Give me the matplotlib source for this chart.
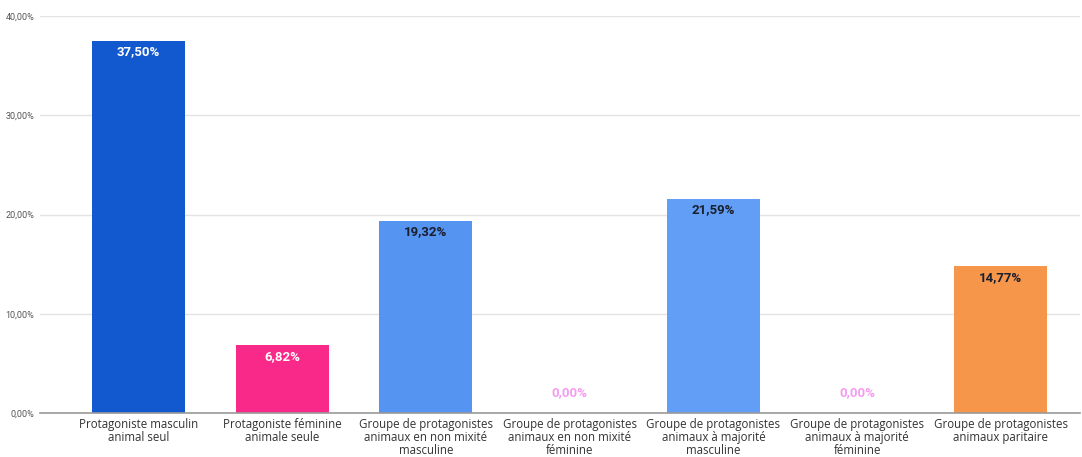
import matplotlib
matplotlib.use("Agg")
import matplotlib.pyplot as plt
from matplotlib.ticker import FuncFormatter

categories = [
    "Protagoniste masculin\nanimal seul",
    "Protagoniste féminine\nanimale seule",
    "Groupe de protagonistes\nanimaux en non mixité\nmasculine",
    "Groupe de protagonistes\nanimaux en non mixité\nféminine",
    "Groupe de protagonistes\nanimaux à majorité\nmasculine",
    "Groupe de protagonistes\nanimaux à majorité\nféminine",
    "Groupe de protagonistes\nanimaux paritaire",
]
values = [37.50, 6.82, 19.32, 0.00, 21.59, 0.00, 14.77]
colors = ["#1259D0", "#F9298A", "#5694F1", "#9EC3F7", "#629EF5", "#F6B38A", "#F6964A"]
label_colors = ["white", "white", "#1a1f2e", "#F49CF0", "#1a1f2e", "#F49CF0", "#1a1f2e"]
yticks = [0, 10, 20, 30, 40]

fig = plt.figure(figsize=(10.82, 4.57), dpi=100)
ax = fig.add_axes([40 / 1082, 1 - 413 / 457, (1080 - 40) / 1082, (413 - 16) / 457])

x = list(range(len(categories)))
bars = ax.bar(x, values, width=0.647, color=colors, zorder=2)

for xi, v, lc in zip(x, values, label_colors):
    txt = f"{v:.2f}".replace(".", ",") + "%"
    off = -7.8 if v > 0 else 14.5
    ax.annotate(txt, (xi, v), xytext=(0, off), textcoords="offset points",
                ha="center", va="center", fontsize=9.5, fontweight="bold",
                color=lc, family="Roboto", zorder=3)

ax.set_xlim(-0.685, 6.55)
ax.set_ylim(0, 40)
ax.set_yticks(yticks)
ax.yaxis.set_major_formatter(FuncFormatter(lambda v, p: f"{v:.2f}".replace(".", ",") + "%"))
ax.set_xticks(x)
ax.set_xticklabels(categories, family="Open Sans", fontsize=8.3, color="#333333",
                   linespacing=1.0)
for lab in ax.get_yticklabels():
    lab.set_family("Roboto")
    lab.set_fontsize(6.5)
    lab.set_color("#555555")

ax.grid(axis="y", color="#e3e3e3", linewidth=1.0, zorder=0)
for s in ["top", "right", "left"]:
    ax.spines[s].set_visible(False)
ax.spines["bottom"].set_color("#9a9a9a")
ax.spines["bottom"].set_linewidth(1.2)
ax.spines["bottom"].set_zorder(4)
ax.tick_params(axis="both", length=0)
ax.tick_params(axis="y", pad=4)
ax.tick_params(axis="x", pad=3.5)

fig.savefig("out.png", dpi=100, facecolor="white")
